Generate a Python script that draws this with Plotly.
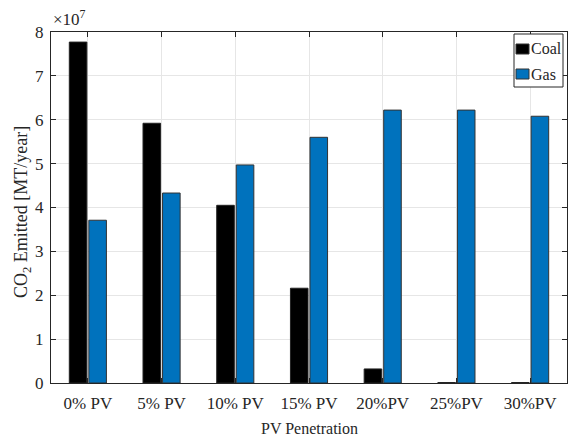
import plotly.graph_objects as go

categories = ["0% PV", "5% PV", "10% PV", "15% PV", "20%PV", "25%PV", "30%PV"]
coal = [7.77, 5.92, 4.05, 2.16, 0.32, 0.01, 0.01]   # x 1e7 MT/year
gas = [3.71, 4.33, 4.97, 5.60, 6.22, 6.22, 6.08]    # x 1e7 MT/year
yticks = [0, 1, 2, 3, 4, 5, 6, 7, 8]
series_names = ["Coal", "Gas"]
series_colors = ["black", "#0072BD"]

FONT = "Liberation Serif"
TXT = "#262626"
xs = list(range(len(categories)))

fig = go.Figure()
fig.add_trace(go.Bar(x=xs, y=coal, name=series_names[0], showlegend=False,
                     marker=dict(color=series_colors[0], line=dict(color="#222", width=1))))
fig.add_trace(go.Bar(x=xs, y=gas, name=series_names[1], showlegend=False,
                     marker=dict(color=series_colors[1], line=dict(color="#333", width=1))))

axis_common = dict(
    showline=True, linecolor=TXT, linewidth=1, mirror="ticks",
    ticks="inside", ticklen=5, tickcolor=TXT,
    showgrid=True, gridcolor="#e6e6e6", gridwidth=1, zeroline=False,
    tickfont=dict(family=FONT, size=17, color=TXT), automargin=False,
)

# plot area in pixels: x 51..567, y 32..383
L, R, T, B = 51, 567, 32, 383
W, H = R - L, B - T
def px(x): return (x - L) / W
def py(y): return 1 - (y - T) / H

fig.update_layout(
    width=573, height=437,
    margin=dict(l=L, r=573 - R, t=T, b=437 - B),
    paper_bgcolor="white", plot_bgcolor="white",
    barmode="group", bargap=0.47, bargroupgap=0.1,
    font=dict(family=FONT, color=TXT),
    xaxis=dict(axis_common, range=[-0.5, 6.5], tickvals=xs, ticktext=categories,
               ticklabelstandoff=5),
    yaxis=dict(axis_common, range=[0, 8], tickvals=yticks, ticklabelstandoff=3),
    showlegend=False,
)

# axis titles
fig.add_annotation(text="PV Penetration", xref="paper", yref="paper", x=0.5, y=py(428),
                   xanchor="center", yanchor="middle", showarrow=False,
                   font=dict(family=FONT, size=16, color=TXT))
fig.add_annotation(text="CO<sub>2</sub> Emitted [MT/year]", xref="paper", yref="paper",
                   x=px(23), y=py(212), xanchor="center", yanchor="middle", textangle=-90,
                   showarrow=False, font=dict(family=FONT, size=18, color=TXT))
# exponent
fig.add_annotation(text="×10<sup>7</sup>", xref="paper", yref="paper", x=px(51), y=py(31),
                   xanchor="left", yanchor="bottom", showarrow=False,
                   font=dict(family=FONT, size=17, color=TXT))

# legend box
fig.add_shape(type="rect", xref="paper", yref="paper", x0=px(514), x1=px(563), y0=py(87), y1=py(34),
              line=dict(color=TXT, width=1), fillcolor="white", layer="above")
for i, (nm, col) in enumerate(zip(series_names, series_colors)):
    cy = 49 + i * 25
    fig.add_shape(type="rect", xref="paper", yref="paper", x0=px(516), x1=px(529),
                  y0=py(cy + 5), y1=py(cy - 5), line=dict(color="#333", width=1),
                  fillcolor=col, layer="above")
    fig.add_annotation(text=nm, xref="paper", yref="paper", x=px(529), y=py(cy),
                       xanchor="left", yanchor="middle", showarrow=False,
                       font=dict(family=FONT, size=16, color=TXT))

fig.write_html("out.html", config={"displayModeBar": False},
               post_script="document.body.style.margin='0';")
